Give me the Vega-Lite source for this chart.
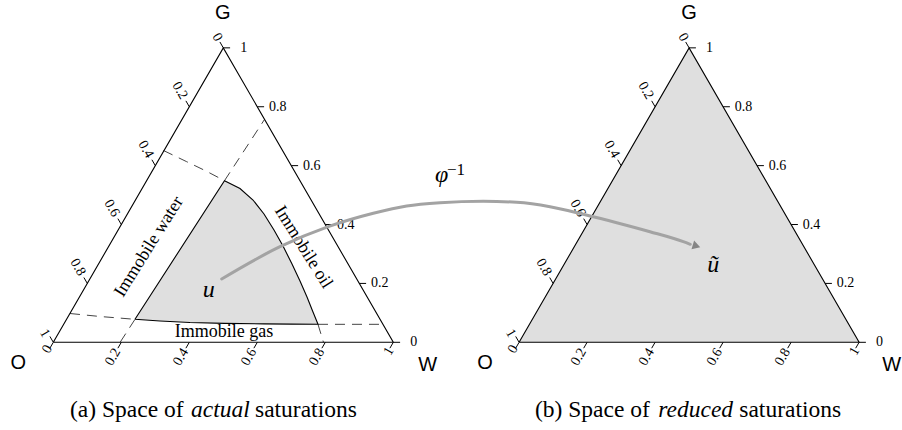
{
  "$schema": "https://vega.github.io/schema/vega-lite/v6.json",
  "width": 902,
  "height": 430,
  "autosize": {"type": "fit", "contains": "padding"},
  "padding": 0,
  "background": "white",
  "config": {"view": {"stroke": null}},
  "datasets": {
    "fill": [
      {"id": "S", "x": 0.2403, "y": 0.0676, "y2": 0.0676},
      {"id": "S", "x": 0.3138, "y": 0.1815, "y2": 0.0626},
      {"id": "S", "x": 0.4021, "y": 0.3182, "y2": 0.0582},
      {"id": "S", "x": 0.5035, "y": 0.4753, "y2": 0.0556},
      {"id": "S", "x": 0.5491, "y": 0.4524, "y2": 0.0550},
      {"id": "S", "x": 0.5874, "y": 0.4185, "y2": 0.0544},
      {"id": "S", "x": 0.6197, "y": 0.3774, "y2": 0.0541},
      {"id": "S", "x": 0.6491, "y": 0.3303, "y2": 0.0538},
      {"id": "S", "x": 0.6756, "y": 0.2832, "y2": 0.0538},
      {"id": "S", "x": 0.7021, "y": 0.2303, "y2": 0.0535},
      {"id": "S", "x": 0.7256, "y": 0.1803, "y2": 0.0535},
      {"id": "S", "x": 0.7462, "y": 0.1332, "y2": 0.0532},
      {"id": "S", "x": 0.7638, "y": 0.0891, "y2": 0.0532},
      {"id": "S", "x": 0.7785, "y": 0.0529, "y2": 0.0529},
      {"id": "R", "x": 1.37, "y": 0, "y2": 0},
      {"id": "R", "x": 1.87, "y": 0.866, "y2": 0},
      {"id": "R", "x": 2.37, "y": 0, "y2": 0}
    ],
    "outline": [
      {"id": "L", "o": 0, "x": 0, "y": 0},
      {"id": "L", "o": 1, "x": 1, "y": 0},
      {"id": "L", "o": 2, "x": 0.5, "y": 0.866},
      {"id": "L", "o": 3, "x": 0, "y": 0},
      {"id": "R", "o": 0, "x": 1.37, "y": 0},
      {"id": "R", "o": 1, "x": 2.37, "y": 0},
      {"id": "R", "o": 2, "x": 1.87, "y": 0.866},
      {"id": "R", "o": 3, "x": 1.37, "y": 0},
      {"id": "S", "o": 0, "x": 0.2403, "y": 0.0676},
      {"id": "S", "o": 1, "x": 0.5035, "y": 0.4753},
      {"id": "S", "o": 2, "x": 0.5491, "y": 0.4524},
      {"id": "S", "o": 3, "x": 0.5874, "y": 0.4185},
      {"id": "S", "o": 4, "x": 0.6197, "y": 0.3774},
      {"id": "S", "o": 5, "x": 0.6491, "y": 0.3303},
      {"id": "S", "o": 6, "x": 0.6756, "y": 0.2832},
      {"id": "S", "o": 7, "x": 0.7021, "y": 0.2303},
      {"id": "S", "o": 8, "x": 0.7256, "y": 0.1803},
      {"id": "S", "o": 9, "x": 0.7462, "y": 0.1332},
      {"id": "S", "o": 10, "x": 0.7638, "y": 0.0891},
      {"id": "S", "o": 11, "x": 0.7785, "y": 0.0529},
      {"id": "S", "o": 12, "x": 0.7021, "y": 0.0535},
      {"id": "S", "o": 13, "x": 0.6197, "y": 0.0541},
      {"id": "S", "o": 14, "x": 0.5035, "y": 0.0556},
      {"id": "S", "o": 15, "x": 0.4021, "y": 0.0582},
      {"id": "S", "o": 16, "x": 0.3138, "y": 0.0626},
      {"id": "S", "o": 17, "x": 0.2403, "y": 0.0676}
    ],
    "dash": [
      {"id": "D1", "o": 0, "x": 0.0491, "y": 0.0847},
      {"id": "D1", "o": 1, "x": 0.1374, "y": 0.0759},
      {"id": "D1", "o": 2, "x": 0.2403, "y": 0.0676},
      {"id": "D2", "o": 0, "x": 0.7785, "y": 0.0529},
      {"id": "D2", "o": 1, "x": 0.9694, "y": 0.0529},
      {"id": "D3", "o": 0, "x": 0.2403, "y": 0.0676},
      {"id": "D3", "o": 1, "x": 0.1965, "y": 0},
      {"id": "D4", "o": 0, "x": 0.5035, "y": 0.4753},
      {"id": "D4", "o": 1, "x": 0.6215, "y": 0.6559},
      {"id": "D5", "o": 0, "x": 0.7785, "y": 0.0529},
      {"id": "D5", "o": 1, "x": 0.7947, "y": 0},
      {"id": "D6", "o": 0, "x": 0.3241, "y": 0.5641},
      {"id": "D6", "o": 1, "x": 0.3924, "y": 0.5312},
      {"id": "D6", "o": 2, "x": 0.4462, "y": 0.5053},
      {"id": "D6", "o": 3, "x": 0.5035, "y": 0.4753}
    ],
    "ticks": [
      {"x": 0, "y": 0, "x2": -0.01, "y2": -0.0173},
      {"x": 0.2, "y": 0, "x2": 0.19, "y2": -0.0173},
      {"x": 0.4, "y": 0, "x2": 0.39, "y2": -0.0173},
      {"x": 0.6, "y": 0, "x2": 0.59, "y2": -0.0173},
      {"x": 0.8, "y": 0, "x2": 0.79, "y2": -0.0173},
      {"x": 1, "y": 0, "x2": 0.99, "y2": -0.0173},
      {"x": 1, "y": 0, "x2": 1.02, "y2": 0},
      {"x": 0.9, "y": 0.1732, "x2": 0.92, "y2": 0.1732},
      {"x": 0.8, "y": 0.3464, "x2": 0.82, "y2": 0.3464},
      {"x": 0.7, "y": 0.5196, "x2": 0.72, "y2": 0.5196},
      {"x": 0.6, "y": 0.6928, "x2": 0.62, "y2": 0.6928},
      {"x": 0.5, "y": 0.866, "x2": 0.52, "y2": 0.866},
      {"x": 0.5, "y": 0.866, "x2": 0.49, "y2": 0.8833},
      {"x": 0.4, "y": 0.6928, "x2": 0.39, "y2": 0.7101},
      {"x": 0.3, "y": 0.5196, "x2": 0.29, "y2": 0.5369},
      {"x": 0.2, "y": 0.3464, "x2": 0.19, "y2": 0.3637},
      {"x": 0.1, "y": 0.1732, "x2": 0.09, "y2": 0.1905},
      {"x": 0, "y": 0, "x2": -0.01, "y2": 0.0173},
      {"x": 1.37, "y": 0, "x2": 1.36, "y2": -0.0173},
      {"x": 1.57, "y": 0, "x2": 1.56, "y2": -0.0173},
      {"x": 1.77, "y": 0, "x2": 1.76, "y2": -0.0173},
      {"x": 1.97, "y": 0, "x2": 1.96, "y2": -0.0173},
      {"x": 2.17, "y": 0, "x2": 2.16, "y2": -0.0173},
      {"x": 2.37, "y": 0, "x2": 2.36, "y2": -0.0173},
      {"x": 2.37, "y": 0, "x2": 2.39, "y2": 0},
      {"x": 2.27, "y": 0.1732, "x2": 2.29, "y2": 0.1732},
      {"x": 2.17, "y": 0.3464, "x2": 2.19, "y2": 0.3464},
      {"x": 2.07, "y": 0.5196, "x2": 2.09, "y2": 0.5196},
      {"x": 1.97, "y": 0.6928, "x2": 1.99, "y2": 0.6928},
      {"x": 1.87, "y": 0.866, "x2": 1.89, "y2": 0.866},
      {"x": 1.87, "y": 0.866, "x2": 1.86, "y2": 0.8833},
      {"x": 1.77, "y": 0.6928, "x2": 1.76, "y2": 0.7101},
      {"x": 1.67, "y": 0.5196, "x2": 1.66, "y2": 0.5369},
      {"x": 1.57, "y": 0.3464, "x2": 1.56, "y2": 0.3637},
      {"x": 1.47, "y": 0.1732, "x2": 1.46, "y2": 0.1905},
      {"x": 1.37, "y": 0, "x2": 1.36, "y2": 0.0173}
    ],
    "tlab": [
      {"axis": "b", "label": "0", "x": -0.0176, "y": -0.0206},
      {"axis": "b", "label": "0.2", "x": 0.175, "y": -0.0433},
      {"axis": "b", "label": "0.4", "x": 0.375, "y": -0.0433},
      {"axis": "b", "label": "0.6", "x": 0.575, "y": -0.0433},
      {"axis": "b", "label": "0.8", "x": 0.775, "y": -0.0433},
      {"axis": "b", "label": "1", "x": 0.9868, "y": -0.0265},
      {"axis": "b", "label": "0", "x": 1.3524, "y": -0.0206},
      {"axis": "b", "label": "0.2", "x": 1.545, "y": -0.0433},
      {"axis": "b", "label": "0.4", "x": 1.745, "y": -0.0433},
      {"axis": "b", "label": "0.6", "x": 1.945, "y": -0.0433},
      {"axis": "b", "label": "0.8", "x": 2.145, "y": -0.0433},
      {"axis": "b", "label": "1", "x": 2.3568, "y": -0.0265},
      {"axis": "r", "label": "0", "x": 1.06, "y": 0},
      {"axis": "r", "label": "0.2", "x": 0.96, "y": 0.1732},
      {"axis": "r", "label": "0.4", "x": 0.86, "y": 0.3464},
      {"axis": "r", "label": "0.6", "x": 0.76, "y": 0.5196},
      {"axis": "r", "label": "0.8", "x": 0.66, "y": 0.6928},
      {"axis": "r", "label": "1", "x": 0.56, "y": 0.866},
      {"axis": "r", "label": "0", "x": 2.43, "y": 0},
      {"axis": "r", "label": "0.2", "x": 2.33, "y": 0.1732},
      {"axis": "r", "label": "0.4", "x": 2.23, "y": 0.3464},
      {"axis": "r", "label": "0.6", "x": 2.13, "y": 0.5196},
      {"axis": "r", "label": "0.8", "x": 2.03, "y": 0.6928},
      {"axis": "r", "label": "1", "x": 1.93, "y": 0.866},
      {"axis": "l", "label": "0", "x": 0.4824, "y": 0.8969},
      {"axis": "l", "label": "0.2", "x": 0.3725, "y": 0.7404},
      {"axis": "l", "label": "0.4", "x": 0.2725, "y": 0.5672},
      {"axis": "l", "label": "0.6", "x": 0.1725, "y": 0.394},
      {"axis": "l", "label": "0.8", "x": 0.0725, "y": 0.2208},
      {"axis": "l", "label": "1", "x": -0.025, "y": 0.0265},
      {"axis": "l", "label": "0", "x": 1.8524, "y": 0.8969},
      {"axis": "l", "label": "0.2", "x": 1.7425, "y": 0.7404},
      {"axis": "l", "label": "0.4", "x": 1.6425, "y": 0.5672},
      {"axis": "l", "label": "0.6", "x": 1.5425, "y": 0.394},
      {"axis": "l", "label": "0.8", "x": 1.4425, "y": 0.2208},
      {"axis": "l", "label": "1", "x": 1.345, "y": 0.0265}
    ],
    "corner": [
      {"label": "G", "x": 0.4982, "y": 0.9676},
      {"label": "O", "x": -0.1029, "y": -0.0618},
      {"label": "W", "x": 1.1012, "y": -0.0668},
      {"label": "G", "x": 1.8697, "y": 0.9676},
      {"label": "O", "x": 1.2697, "y": -0.0618},
      {"label": "W", "x": 2.4659, "y": -0.0668}
    ],
    "cap": [
      {"label": "(a) Space of", "x": 0.0491, "y": -0.2188},
      {"label": "saturations", "x": 0.5932, "y": -0.2188},
      {"label": "(b) Space of", "x": 1.4168, "y": -0.2188},
      {"label": "saturations", "x": 2.0176, "y": -0.2188}
    ],
    "capit": [
      {"label": "actual", "x": 0.405, "y": -0.2188},
      {"label": "reduced", "x": 1.7794, "y": -0.2188}
    ],
    "immw": [{"label": "Immobile water", "x": 0.2815, "y": 0.2812}],
    "immo": [{"label": "Immobile oil", "x": 0.7353, "y": 0.2794}],
    "immg": [{"label": "Immobile gas", "x": 0.5021, "y": 0.0294}],
    "arrow": [
      {"o": 0, "x": 0.4953, "y": 0.1862},
      {"o": 1, "x": 0.6668, "y": 0.2812},
      {"o": 2, "x": 0.8088, "y": 0.34},
      {"o": 3, "x": 0.9412, "y": 0.3794},
      {"o": 4, "x": 1.0394, "y": 0.4009},
      {"o": 5, "x": 1.1374, "y": 0.4106},
      {"o": 6, "x": 1.2647, "y": 0.415},
      {"o": 7, "x": 1.3629, "y": 0.4118},
      {"o": 8, "x": 1.4609, "y": 0.3988},
      {"o": 9, "x": 1.5588, "y": 0.3765},
      {"o": 10, "x": 1.6571, "y": 0.3518},
      {"o": 11, "x": 1.755, "y": 0.3253},
      {"o": 12, "x": 1.8529, "y": 0.2959},
      {"o": 13, "x": 1.8735, "y": 0.2882}
    ],
    "head": [{"x": 1.8918, "y": 0.2832}],
    "mathit": [
      {"label": "u", "x": 0.4571, "y": 0.1324},
      {"label": "ũ", "x": 1.9412, "y": 0.2076},
      {"label": "φ", "x": 1.1424, "y": 0.4715}
    ],
    "sup": [{"label": "−1", "x": 1.1579, "y": 0.4921}]
  },
  "encoding": {
    "x": {"field": "x", "type": "quantitative", "scale": {"domain": [-0.15676, 2.49618], "nice": false, "zero": false}, "axis": null},
    "y": {"field": "y", "type": "quantitative", "scale": {"domain": [-0.25794, 1.00676], "nice": false, "zero": false}, "axis": null}
  },
  "layer": [
    {
      "data": {"name": "fill"},
      "mark": {"type": "area", "color": "#dfdfdf", "opacity": 1},
      "encoding": {"y2": {"field": "y2"}, "detail": {"field": "id"}}
    },
    {
      "data": {"name": "dash"},
      "mark": {"type": "line", "color": "#444444", "strokeWidth": 1, "strokeDash": [10, 7]},
      "encoding": {"detail": {"field": "id"}, "order": {"field": "o"}}
    },
    {
      "data": {"name": "outline"},
      "mark": {"type": "line", "color": "black", "strokeWidth": 1.1},
      "encoding": {"detail": {"field": "id"}, "order": {"field": "o"}}
    },
    {
      "data": {"name": "ticks"},
      "mark": {"type": "rule", "color": "black", "strokeWidth": 1},
      "encoding": {"x2": {"field": "x2"}, "y2": {"field": "y2"}}
    },
    {
      "data": {"name": "tlab"},
      "transform": [{"filter": "datum.axis === 'b'"}],
      "mark": {"type": "text", "angle": 300, "font": "Liberation Serif, serif", "fontSize": 14, "align": "center", "baseline": "middle", "color": "black"},
      "encoding": {"text": {"field": "label"}}
    },
    {
      "data": {"name": "tlab"},
      "transform": [{"filter": "datum.axis === 'l'"}],
      "mark": {"type": "text", "angle": 60, "font": "Liberation Serif, serif", "fontSize": 14, "align": "center", "baseline": "middle", "color": "black"},
      "encoding": {"text": {"field": "label"}}
    },
    {
      "data": {"name": "tlab"},
      "transform": [{"filter": "datum.axis === 'r'"}],
      "mark": {"type": "text", "font": "Liberation Serif, serif", "fontSize": 14, "align": "center", "baseline": "middle", "color": "black"},
      "encoding": {"text": {"field": "label"}}
    },
    {
      "data": {"name": "corner"},
      "mark": {"type": "text", "font": "Liberation Sans, sans-serif", "fontSize": 20, "align": "center", "baseline": "middle", "color": "black"},
      "encoding": {"text": {"field": "label"}}
    },
    {
      "data": {"name": "cap"},
      "mark": {"type": "text", "font": "Liberation Serif, serif", "fontSize": 23.5, "align": "left", "baseline": "alphabetic", "color": "black"},
      "encoding": {"text": {"field": "label"}}
    },
    {
      "data": {"name": "capit"},
      "mark": {"type": "text", "font": "Liberation Serif, serif", "fontStyle": "italic", "fontSize": 23.5, "align": "left", "baseline": "alphabetic", "color": "black"},
      "encoding": {"text": {"field": "label"}}
    },
    {
      "data": {"name": "immw"},
      "mark": {"type": "text", "angle": 302, "font": "Liberation Serif, serif", "fontSize": 18, "align": "center", "baseline": "middle", "color": "black"},
      "encoding": {"text": {"field": "label"}}
    },
    {
      "data": {"name": "immo"},
      "mark": {"type": "text", "angle": 58, "font": "Liberation Serif, serif", "fontSize": 18, "align": "center", "baseline": "middle", "color": "black"},
      "encoding": {"text": {"field": "label"}}
    },
    {
      "data": {"name": "immg"},
      "mark": {"type": "text", "font": "Liberation Serif, serif", "fontSize": 18, "align": "center", "baseline": "middle", "color": "black"},
      "encoding": {"text": {"field": "label"}}
    },
    {
      "data": {"name": "mathit"},
      "mark": {"type": "text", "font": "Liberation Serif, serif", "fontStyle": "italic", "fontSize": 24, "align": "center", "baseline": "alphabetic", "color": "black"},
      "encoding": {"text": {"field": "label"}}
    },
    {
      "data": {"name": "sup"},
      "mark": {"type": "text", "font": "Liberation Serif, serif", "fontSize": 17, "align": "left", "baseline": "alphabetic", "color": "black"},
      "encoding": {"text": {"field": "label"}}
    },
    {
      "data": {"name": "arrow"},
      "mark": {"type": "line", "color": "#a3a3a3", "strokeWidth": 3, "interpolate": "monotone", "strokeCap": "round"},
      "encoding": {"order": {"field": "o"}}
    },
    {
      "data": {"name": "head"},
      "mark": {"type": "point", "shape": "triangle-right", "filled": true, "color": "#858585", "size": 80, "angle": 17, "opacity": 1}
    }
  ]
}
